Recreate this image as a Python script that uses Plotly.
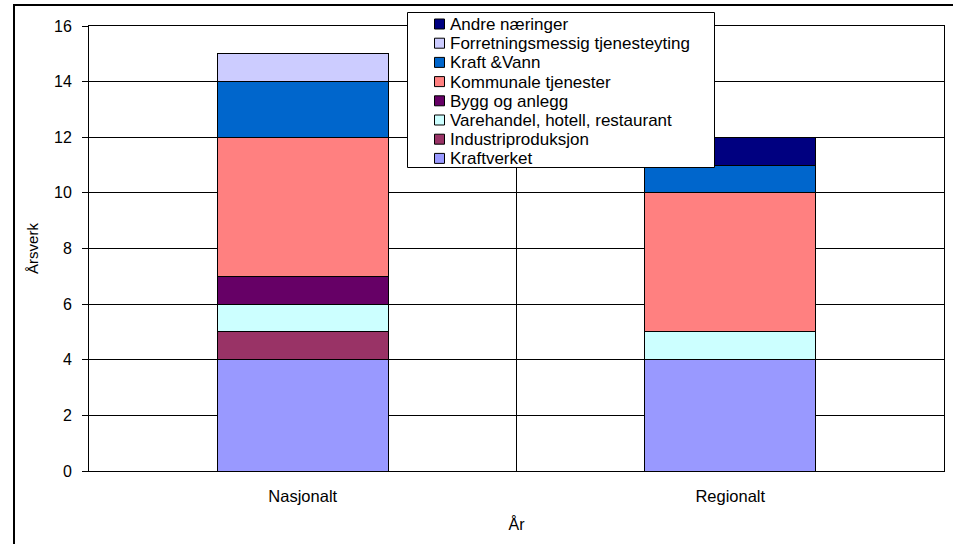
import plotly.graph_objects as go

# Employment (årsverk) by sector, national vs regional
categories = ["Nasjonalt", "Regionalt"]

sectors = [
    "Kraftverket",
    "Industriproduksjon",
    "Varehandel, hotell, restaurant",
    "Bygg og anlegg",
    "Kommunale tjenester",
    "Kraft &Vann",
    "Forretningsmessig tjenesteyting",
    "Andre næringer",
]

kraftverket = [4, 4]
industriproduksjon = [1, 0]
varehandel = [1, 1]
bygg_anlegg = [1, 0]
kommunale = [5, 5]
kraft_vann = [2, 1]
forretningsmessig = [1, 0]
andre = [0, 1]

series = [kraftverket, industriproduksjon, varehandel, bygg_anlegg,
          kommunale, kraft_vann, forretningsmessig, andre]

colors = ["#9999FF", "#993366", "#CCFFFF", "#660066",
          "#FF8080", "#0066CC", "#CCCCFF", "#000080"]

y_ticks = [0, 2, 4, 6, 8, 10, 12, 14, 16]

font_family = "Liberation Sans, Arial, sans-serif"

# canvas and plot-area geometry (pixels)
W, H = 953, 544
ML, MR, MT, MB = 89, 9, 26, 73
PW, PH = W - ML - MR, H - MT - MB


def px(x):
    return (x - ML) / PW


def py(y):
    return (H - MB - y) / PH


fig = go.Figure()
for name, vals, col in zip(sectors, series, colors):
    fig.add_trace(go.Bar(
        x=categories, y=vals, name=name,
        marker=dict(color=col, line=dict(color="black", width=1)),
        width=0.4, showlegend=False,
    ))

shapes = [
    # outer chart frame
    dict(type="rect", xref="paper", yref="paper",
         x0=px(14), x1=px(W + 20), y0=py(H + 20), y1=py(5),
         line=dict(color="black", width=2), fillcolor="rgba(0,0,0,0)",
         layer="above"),
    # legend box
    dict(type="rect", xref="paper", yref="paper",
         x0=px(407.5), x1=px(714.5), y0=py(167.5), y1=py(12.5),
         line=dict(color="black", width=1), fillcolor="white",
         layer="above"),
]
annotations = []

# legend entries, top to bottom in reverse stacking order
row_top, row_step = 24.0, 19.2
for i, (name, col) in enumerate(zip(reversed(sectors), reversed(colors))):
    cy = row_top + i * row_step
    shapes.append(dict(
        type="rect", xref="paper", yref="paper",
        x0=px(434.5), x1=px(444.5), y0=py(cy + 5), y1=py(cy - 5),
        line=dict(color="black", width=1), fillcolor=col, layer="above"))
    annotations.append(dict(
        xref="paper", yref="paper", x=px(448), y=py(cy + 0.5),
        xanchor="left", yanchor="middle", showarrow=False,
        text=name, font=dict(size=17, family=font_family, color="black")))

fig.update_layout(
    barmode="stack",
    width=W, height=H,
    margin=dict(l=ML, r=MR, t=MT, b=MB),
    paper_bgcolor="white",
    plot_bgcolor="white",
    font=dict(family=font_family, size=16, color="black"),
    showlegend=False,
    xaxis=dict(
        type="category",
        range=[-0.5, 1.5],
        tickson="boundaries",
        showgrid=True, gridcolor="black", gridwidth=1,
        showline=True, linecolor="black", linewidth=1, mirror=True,
        ticks="", ticklabelstandoff=10,
        title=dict(text="År", standoff=15, font=dict(size=16)),
        tickfont=dict(size=16.5),
    ),
    yaxis=dict(
        range=[0, 16],
        tickvals=y_ticks,
        showgrid=True, gridcolor="black", gridwidth=1,
        showline=True, linecolor="black", linewidth=1, mirror=True,
        ticks="outside", ticklen=6, tickcolor="black",
        ticklabelstandoff=7,
        zeroline=False,
        title=dict(text="Årsverk", standoff=11, font=dict(size=15)),
        tickfont=dict(size=16),
    ),
    shapes=shapes,
    annotations=annotations,
)

fig.write_html("out.html")
